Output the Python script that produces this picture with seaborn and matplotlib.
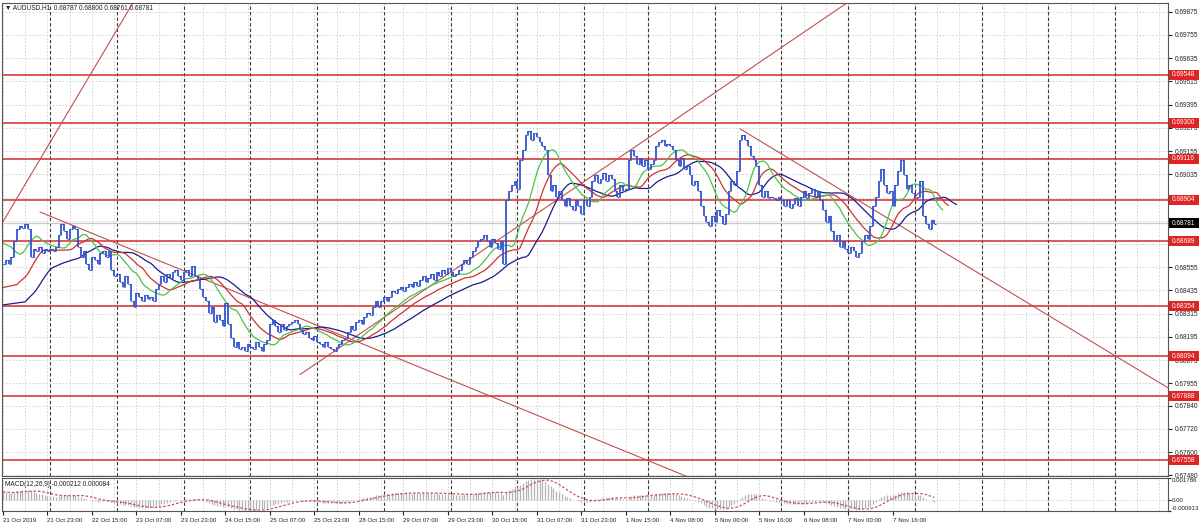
import numpy as np
import pandas as pd
import matplotlib.pyplot as plt
import matplotlib.transforms as mtransforms
from matplotlib.patches import Rectangle
import seaborn as sns

# hourly closes, bar 0 = 21 Oct 07:00
closes = [
    0.6857, 0.6859, 0.6857, 0.6861,
    0.6869, 0.6875, 0.6877, 0.6876, 0.6878, 0.6875,
    0.6861,
    0.6865, 0.6864, 0.6866, 0.6863, 0.6865, 0.6864, 0.6865, 0.6864, 0.6866,
    0.6872, 0.6878, 0.6874, 0.6870, 0.6875, 0.6877, 0.6875,
    0.6866, 0.6861, 0.6864, 0.6857, 0.6854, 0.6861, 0.6859, 0.6857,
    0.6863, 0.6864, 0.6861, 0.6864,
    0.6854, 0.6851, 0.6852, 0.6848, 0.6845, 0.6851, 0.6847,
    0.6838, 0.6835, 0.6842, 0.6840, 0.6838, 0.6841, 0.6839, 0.6840, 0.6838, 0.6844,
    0.6847, 0.6851, 0.6848, 0.6852, 0.6850, 0.6853, 0.6854, 0.6851, 0.6849,
    0.6853, 0.6854, 0.6851, 0.6856, 0.6851, 0.6849,
    0.6844, 0.6840, 0.6838, 0.6832, 0.6835, 0.6827, 0.6831, 0.6828, 0.6825, 0.6837, 0.6826,
    0.6819, 0.6814, 0.6817, 0.6813, 0.6814, 0.6812, 0.6816, 0.6814, 0.6813, 0.6817, 0.6814,
    0.6812, 0.6816, 0.6818,
    0.6826, 0.6828, 0.6825, 0.6822, 0.6826, 0.6823, 0.6825, 0.6826, 0.6827, 0.6828, 0.6826,
    0.6823, 0.6821, 0.6822, 0.6819, 0.6818, 0.6820, 0.6817, 0.6816, 0.6814, 0.6817, 0.6814,
    0.6813, 0.6812, 0.6814, 0.6816, 0.6818, 0.6819,
    0.6822, 0.6825, 0.6823, 0.6827, 0.6828, 0.6826, 0.6830, 0.6832, 0.6831, 0.6835, 0.6838,
    0.6835, 0.6838, 0.6840,
    0.6838, 0.6840, 0.6843, 0.6842, 0.6844, 0.6845, 0.6843, 0.6845, 0.6847, 0.6845, 0.6848,
    0.6846, 0.6849,
    0.6851, 0.6848, 0.6850, 0.6852, 0.6849, 0.6853, 0.6851, 0.6854, 0.6852, 0.6855, 0.6853,
    0.6851, 0.6852, 0.6854, 0.6857, 0.6859, 0.6857, 0.6861, 0.6864, 0.6866, 0.6869,
    0.6870, 0.6872, 0.6869, 0.6866, 0.6870, 0.6868, 0.6865, 0.6869, 0.6857,
    0.6890, 0.6895, 0.6898, 0.6900, 0.6896, 0.6911, 0.6916,
    0.6924, 0.6926, 0.6921, 0.6925, 0.6923, 0.6920, 0.6918, 0.6916,
    0.6903, 0.6895, 0.6898, 0.6892, 0.6895,
    0.6890, 0.6887, 0.6891, 0.6887, 0.6885, 0.6890, 0.6887, 0.6883, 0.6890, 0.6887, 0.6892,
    0.6900, 0.6903, 0.6899, 0.6901, 0.6904, 0.6900, 0.6903, 0.6901,
    0.6895, 0.6892, 0.6898, 0.6895, 0.6896,
    0.6911, 0.6916, 0.6913,
    0.6909, 0.6912, 0.6908, 0.6911, 0.6906, 0.6909, 0.6911,
    0.6918, 0.6920, 0.6921, 0.6918, 0.6919, 0.6918, 0.6916,
    0.6911, 0.6908, 0.6912, 0.6906, 0.6908,
    0.6903, 0.6898, 0.6900, 0.6895,
    0.6887, 0.6882, 0.6879, 0.6877, 0.6882,
    0.6879, 0.6885, 0.6882, 0.6878, 0.6883,
    0.6895, 0.6900, 0.6898, 0.6905,
    0.6921, 0.6924, 0.6921, 0.6918,
    0.6913, 0.6911, 0.6908,
    0.6898, 0.6892, 0.6895, 0.6891,
    0.6892, 0.6891, 0.6890, 0.6892, 0.6890,
    0.6887, 0.6890, 0.6886, 0.6888, 0.6891, 0.6887,
    0.6892, 0.6895, 0.6891, 0.6894, 0.6896, 0.6892, 0.6895, 0.6890,
    0.6885, 0.6879, 0.6882, 0.6874, 0.6869, 0.6872,
    0.6866, 0.6869, 0.6865, 0.6863, 0.6866, 0.6864, 0.6861, 0.6863,
    0.6869, 0.6872, 0.6870, 0.6877,
    0.6887, 0.6892, 0.6900, 0.6906,
    0.6898, 0.6894, 0.6895, 0.6887,
    0.6898, 0.6905, 0.6911, 0.6903,
    0.6896, 0.6898, 0.6894,
    0.6891, 0.6892, 0.6900,
    0.6882, 0.6878, 0.6875, 0.6880, 0.6878,
]

# time axis labels (bar index, text)
tick_bars = [0, 16, 32, 48, 64, 80, 96, 112, 128, 144, 160, 176, 192, 208,
             224, 240, 256, 272, 288, 304, 320]
tick_labels = ["21 Oct 2019", "21 Oct 23:00", "22 Oct 15:00", "23 Oct 07:00",
               "23 Oct 23:00", "24 Oct 15:00", "25 Oct 07:00", "25 Oct 23:00",
               "28 Oct 15:00", "29 Oct 07:00", "29 Oct 23:00", "30 Oct 15:00",
               "31 Oct 07:00", "31 Oct 23:00", "1 Nov 15:00", "4 Nov 08:00",
               "5 Nov 00:00", "5 Nov 16:00", "6 Nov 08:00", "7 Nov 00:00",
               "7 Nov 16:00"]
day_starts = [17, 41, 65, 89, 113, 137, 161, 185, 209, 232, 256, 280, 304,
              328, 352, 376, 400]

price_ticks = [0.69875, 0.69755, 0.69635, 0.69515, 0.69395, 0.69275,
               0.69155, 0.69035, 0.68915, 0.68795, 0.68675, 0.68555,
               0.68435, 0.68315, 0.68195, 0.68075, 0.67955, 0.67840,
               0.67720, 0.67600, 0.67480]
# scale labels that sit fully under a price box are not shown
hidden_ticks = [0.68915, 0.68795]
levels = [0.69548, 0.69300, 0.69116, 0.68904, 0.68689, 0.68354, 0.68094,
          0.67888, 0.67558]
bid = 0.68781

# trend lines: (bar, price) end points
trend_lines = [
    [(0, 0.6879), (50, 0.7000)],
    [(13.3, 0.6884), (250, 0.6745)],
    [(106.8, 0.6800), (310, 0.69983)],
    [(265.1, 0.6927), (425, 0.6788)],
]

# alligator values at the left edge (jaw, teeth, lips)
jaw_start, teeth_start, lips_start = 0.6836, 0.6845, 0.6868
macd_start = 0.0007

macd_ticks = [0.001786, 0.0, -0.000913]
macd_tick_labels = ["0.001786", "0.00", "-0.000913"]


def smma(vals, n, seed):
    out = []
    s = seed
    for v in vals:
        s = (s * (n - 1) + v) / n
        out.append(s)
    return np.array(out)


sns.set_style("white")
plt.rcParams['font.family'] = ['Liberation Sans', 'DejaVu Sans']
fs = 4.7

W, H = 1200, 529
fig = plt.figure(figsize=(12, 5.29), dpi=100)
ax = fig.add_axes([2 / W, 1 - 476 / H, 1166 / W, 473 / H])
ax2 = fig.add_axes([2 / W, 1 - 511 / H, 1166 / W, 33 / H])

c = np.array(closes)
n = len(c)
idx = np.arange(n)
opens = np.r_[c[0], c[:-1]]
hi = np.maximum(opens, c)
lo = np.minimum(opens, c)
median = (hi + lo) / 2

xlim = (-0.36, 419.06)
ylim = (0.67476, 0.69920)
px = (ylim[1] - ylim[0]) / 473  # price per pixel

# grid
for a in (ax, ax2):
    for b in range(0, 420, 8):
        a.axvline(b, color="#cfcfcf", lw=0.6, ls=(0, (2, 2)), zorder=0)
    for b in day_starts:
        a.axvline(b, color="#3a3a3a", lw=0.8, ls=(0, (3, 2)), zorder=0.5)
for p in price_ticks:
    ax.axhline(p, color="#cfcfcf", lw=0.6, ls=(0, (2, 2)), zorder=0)

ax.axhline(bid, color="#c8c8c8", lw=0.9, zorder=0.6)
for lv in levels:
    ax.axhline(lv, color="#d42a2a", lw=1.1, zorder=1)
for (x0, y0), (x1, y1) in trend_lines:
    ax.plot([x0, x1], [y0, y1], color="#c0504d", lw=0.8, zorder=1.2)

# price bars
bar_col = "#3355cc"
ax.vlines(idx, lo, hi, color=bar_col, lw=1.3, zorder=3)
ax.hlines(opens, idx - 0.5, idx, color=bar_col, lw=0.8, zorder=3)
ax.hlines(c, idx, idx + 0.5, color=bar_col, lw=0.8, zorder=3)

# alligator
for per, shift, seed, col in [(13, 8, jaw_start, "#1c1c8a"),
                              (8, 5, teeth_start, "#cc3333"),
                              (5, 3, lips_start, "#4cc24c")]:
    vals = smma(median, per, seed)
    xs = np.r_[0, idx + shift]
    ys = np.r_[seed, vals]
    sns.lineplot(x=xs, y=ys, ax=ax, color=col, lw=0.9, estimator=None,
                 sort=False, zorder=2)

ax.set_xlim(*xlim)
ax.set_ylim(*ylim)
ax.set_xticks([])
ax.yaxis.tick_right()
ax.set_yticks(price_ticks)
ax.set_yticklabels(["" if p in hidden_ticks else f"{p:.5f}"
                    for p in price_ticks])
ax.tick_params(axis="y", length=3, pad=2, labelsize=fs, colors="#222222",
               direction="out", right=True)
ax.set_xlabel("")
ax.set_ylabel("")

# price labels on the right scale
blend = mtransforms.blended_transform_factory(ax.transAxes, ax.transData)
box_w = 30 / 1166
for lv, fc in [(v, "#e02424") for v in levels] + [(bid, "black")]:
    ax.add_patch(Rectangle((1.0005, lv - 5 * px), box_w, 10 * px,
                           transform=blend, fc=fc, ec="none",
                           clip_on=False, zorder=9))
    ax.text(1.0005 + 3 / 1166, lv, f"{lv:.5f}", transform=blend, ha="left",
            va="center", color="white", fontsize=fs, clip_on=False,
            zorder=10)

# MACD 12,26,9
ema12 = pd.Series(np.r_[c[0], c]).ewm(span=12, adjust=False).mean().values[1:]
ema26 = pd.Series(np.r_[c[0] - macd_start, c]).ewm(span=26, adjust=False).mean().values[1:]
macd = ema12 - ema26
signal = pd.Series(macd).rolling(9, min_periods=1).mean().values

ax2.axhline(0, color="#cfcfcf", lw=0.6, ls=(0, (2, 2)), zorder=0)
ax2.vlines(idx, 0, macd, color="#b4b4b4", lw=0.9, zorder=2)
sns.lineplot(x=idx, y=signal, ax=ax2, color="#d05050", lw=0.9,
             linestyle=(0, (2, 1.5)), estimator=None, zorder=3)
ax2.set_xlim(*xlim)
ax2.set_ylim(-0.000913, 0.001786)
ax2.yaxis.tick_right()
ax2.set_yticks(macd_ticks)
ax2.set_yticklabels(macd_tick_labels)
ax2.tick_params(axis="y", length=2, pad=1, labelsize=4.4, colors="#222222",
                right=True)
yl = ax2.get_yticklabels()
yl[0].set_va("top")
yl[2].set_va("bottom")
ax2.set_xticks(tick_bars)
ax2.set_xticklabels(tick_labels, ha="left")
ax2.tick_params(axis="x", length=3, pad=2, labelsize=4.4, colors="#222222",
                bottom=True)
ax2.set_xlabel("")
ax2.set_ylabel("")

for a in (ax, ax2):
    for s in a.spines.values():
        s.set_color("#555555")
        s.set_linewidth(0.8)

fig.text(5 / W, 1 - 8 / H, "\u25bc AUDUSD,H1  0.68787 0.68800 0.68761 0.68781",
         fontsize=fs, va="center", ha="left", color="#222222")
fig.text(5 / W, 1 - 484 / H, "MACD(12,26,9) -0.000212 0.000084",
         fontsize=fs, va="center", ha="left", color="#222222")

fig.savefig("out.png", dpi=100, facecolor="white")
